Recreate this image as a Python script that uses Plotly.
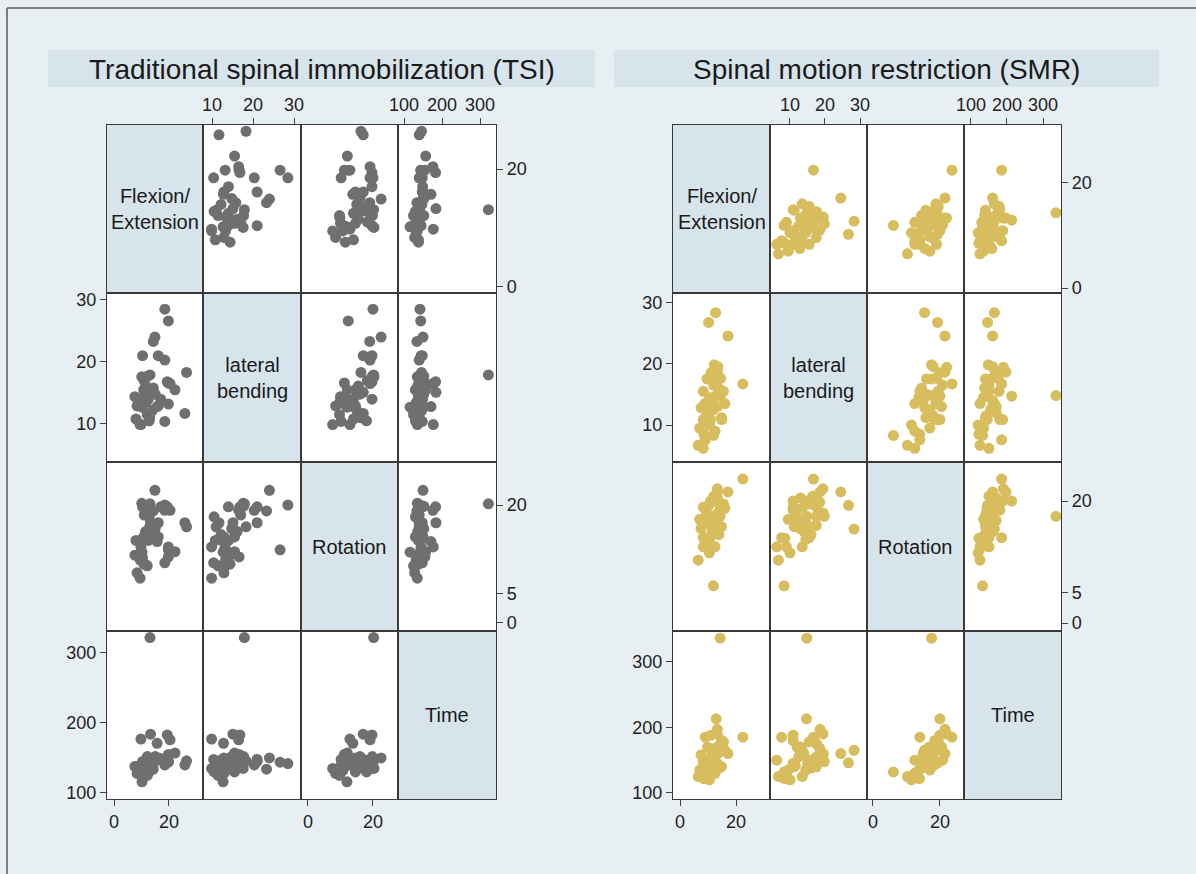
import plotly.graph_objects as go

# ---------------- data ----------------
variable_labels = ["Flexion/<br>Extension", "lateral<br>bending", "Rotation", "Time"]
group_titles = ["Traditional spinal immobilization (TSI)", "Spinal motion restriction (SMR)"]

tsi_flexion = [18.5, 19.8, 14.9, 14.3, 10.4, 16.1, 18.5, 26.4, 10.1, 12.1, 11.0, 19.8, 22.2, 7.6,
               10.8, 14.3, 9.5, 8.4, 16.1, 19.8, 25.8, 12.1, 18.5, 9.5, 10.8, 10.4, 11.5, 9.8,
               15.7, 13.3, 19.4, 20.4, 13.1, 10.2, 12.5, 13.0, 11.8, 14.0, 8.0, 15.0, 12.8, 17.0]
tsi_lateral = [28.5, 26.6, 24.0, 23.3, 21.0, 21.0, 20.3, 18.3, 17.6, 17.7, 17.0, 16.6, 15.5, 14.4,
               15.5, 15.8, 13.3, 12.9, 12.9, 13.2, 11.7, 11.5, 10.4, 9.9, 14.4, 13.9, 16.1, 9.9,
               12.8, 15.1, 16.8, 16.5, 17.9, 12.7, 14.0, 11.0, 13.5, 12.2, 10.8, 14.8, 10.5, 14.0]
tsi_rotation = [20.0, 12.4, 22.5, 19.0, 19.7, 17.0, 19.1, 16.3, 20.3, 19.8, 18.3, 11.2, 12.1, 11.5,
                14.6, 15.6, 10.7, 8.5, 14.6, 12.9, 17.0, 9.7, 10.2, 7.6, 10.0, 11.0, 15.5, 12.9,
                13.8, 17.0, 19.7, 19.1, 20.2, 12.0, 14.0, 16.3, 9.8, 15.0, 14.0, 16.0, 18.0, 19.7]
tsi_time = [142, 144, 150, 134, 145, 148, 140, 146, 135, 152, 140, 155, 157, 138,
            130, 142, 132, 128, 150, 145, 140, 125, 148, 135, 138, 142, 136, 177,
            171, 184, 183, 176, 322, 116, 144, 140, 133, 147, 138, 152, 130, 149]

smr_flexion = [22.4, 17.1, 10.2, 12.7, 14.3, 12.9, 13.3, 11.9, 13.3, 6.5, 8.3, 9.0, 10.9, 14.9,
               13.3, 14.5, 13.5, 11.0, 9.6, 8.3, 13.3, 10.5, 8.9, 11.8, 14.8, 8.3, 10.5, 8.5,
               12.5, 7.0, 16.0, 12.0, 9.8, 15.5, 11.5, 9.5, 12.2, 13.8, 7.5, 11.0]
smr_lateral = [16.7, 24.5, 26.7, 28.3, 14.8, 14.7, 18.6, 8.3, 19.4, 6.7, 6.2, 7.6, 10.9, 10.9,
               13.0, 17.6, 19.5, 17.5, 17.5, 15.5, 15.0, 14.5, 13.5, 12.5, 11.2, 10.9, 10.0, 8.5,
               9.0, 9.5, 13.5, 16.5, 12.0, 15.5, 14.0, 11.5, 19.8, 16.0, 12.8, 18.5]
smr_rotation = [23.6, 21.5, 19.3, 15.4, 17.5, 20.0, 21.5, 6.1, 22.0, 10.3, 12.5, 14.0, 20.0, 18.5,
                20.5, 19.0, 18.0, 16.0, 17.5, 14.0, 16.0, 13.7, 12.5, 17.0, 15.8, 19.0, 11.5, 13.9,
                12.5, 17.0, 18.8, 20.8, 16.8, 19.5, 15.0, 18.0, 17.5, 14.5, 15.5, 19.8]
smr_time = [185, 160, 146, 165, 336, 213, 197, 132, 190, 125, 150, 185, 188, 180,
            170, 175, 160, 155, 140, 150, 145, 135, 125, 155, 140, 145, 120, 122,
            130, 135, 165, 150, 170, 178, 160, 142, 148, 138, 158, 168]

# tick labels: x-axis (columns) and y-axis (rows)
x_ticks = [[0, 20], [10, 20, 30], [0, 20], [100, 200, 300]]
y_ticks = [[0, 20], [10, 20, 30], [0, 5, 20], [100, 200, 300]]

# ---------------- layout geometry (pixels) ----------------
W, H = 1196, 874
BG = "#e8eff3"
PANEL_BLUE = "#d8e4ec"
FONT = "Liberation Sans, Arial, sans-serif"

groups = [
    dict(title=group_titles[0], color="#6f6f6f",
         data=[tsi_flexion, tsi_lateral, tsi_rotation, tsi_time],
         cols=[107, 203, 301, 398, 496], header=(48, 595),
         xr=[[-2.55, 32.4], [7.8, 31.7], [-2.15, 27.7], [84.2, 342]],
         yr=[[-1.02, 27.46], [3.87, 31.1], [-1.36, 27.3], [91.4, 331.4]]),
    dict(title=group_titles[1], color="#d7bd5e",
         data=[smr_flexion, smr_lateral, smr_rotation, smr_time],
         cols=[673, 770, 867, 964, 1061], header=(614, 1159),
         xr=[[-2.5, 32.1], [4.29, 32.0], [-1.79, 27.2], [80.6, 350]],
         yr=[[-0.95, 31.0], [3.98, 31.5], [-1.31, 26.4], [90.8, 347]]),
]
rows = [125, 293, 462, 631, 799]


def fx(x):
    return x / W


def fy(y):
    return 1 - y / H


fig = go.Figure()
layout = {}
shapes = []
annotations = []
tickfont = dict(family=FONT, size=18, color="#222222")
n = 0
for g in groups:
    c = g["cols"]
    shapes.append(dict(type="rect", xref="paper", yref="paper", layer="below",
                       x0=fx(g["header"][0]), x1=fx(g["header"][1]), y0=fy(87), y1=fy(50),
                       fillcolor=PANEL_BLUE, line=dict(width=0)))
    annotations.append(dict(xref="paper", yref="paper",
                            x=fx((g["header"][0] + g["header"][1]) / 2), y=fy(69),
                            text=g["title"], showarrow=False, xanchor="center", yanchor="middle",
                            font=dict(family=FONT, size=28, color="#1a1a1a")))
    for i in range(4):
        for j in range(4):
            n += 1
            xa = "x" if n == 1 else f"x{n}"
            ya = "y" if n == 1 else f"y{n}"
            xk = "xaxis" if n == 1 else f"xaxis{n}"
            yk = "yaxis" if n == 1 else f"yaxis{n}"
            xd = [fx(c[j]), fx(c[j + 1])]
            yd = [fy(rows[i + 1]), fy(rows[i])]
            xax = dict(domain=xd, anchor=ya, range=g["xr"][j], showgrid=False, zeroline=False,
                       showline=True, mirror=True, linecolor="#3a3a3a", linewidth=1.2,
                       showticklabels=False, ticks="", fixedrange=True, automargin=False)
            yax = dict(domain=yd, anchor=xa, range=g["yr"][i], showgrid=False, zeroline=False,
                       showline=True, mirror=True, linecolor="#3a3a3a", linewidth=1.2,
                       showticklabels=False, ticks="", fixedrange=True, automargin=False)
            if (i == 0 and j in (1, 3)) or (i == 3 and j in (0, 2)):
                xax.update(side="top" if i == 0 else "bottom", showticklabels=True,
                           tickmode="array", tickvals=x_ticks[j], ticks="outside", ticklen=6,
                           tickcolor="#444444", tickwidth=1, tickfont=tickfont)
            if (j == 0 and i in (1, 3)) or (j == 3 and i in (0, 2)):
                yax.update(side="left" if j == 0 else "right", showticklabels=True,
                           tickmode="array", tickvals=y_ticks[i], ticks="outside", ticklen=6,
                           tickcolor="#444444", tickwidth=1, tickfont=tickfont)
            layout[xk] = xax
            layout[yk] = yax
            fill = PANEL_BLUE if i == j else "white"
            shapes.append(dict(type="rect", xref="paper", yref="paper", layer="below",
                               x0=xd[0], x1=xd[1], y0=yd[0], y1=yd[1],
                               fillcolor=fill, line=dict(width=0)))
            if i == j:
                annotations.append(dict(xref=f"{xa} domain", yref=f"{ya} domain", x=0.5, y=0.5,
                                        text=variable_labels[i], showarrow=False,
                                        font=dict(family=FONT, size=20, color="#1a1a1a")))
                fig.add_trace(go.Scatter(x=[None], y=[None], xaxis=xa, yaxis=ya,
                                         mode="markers", hoverinfo="skip", showlegend=False))
            else:
                fig.add_trace(go.Scatter(x=g["data"][j], y=g["data"][i], xaxis=xa, yaxis=ya,
                                         mode="markers", showlegend=False,
                                         marker=dict(size=11, color=g["color"], line=dict(width=0))))

# outer frame lines
shapes.append(dict(type="line", xref="paper", yref="paper", x0=fx(7), x1=fx(7), y0=0, y1=fy(8),
                   line=dict(color="#5a5a5a", width=1.5)))
shapes.append(dict(type="line", xref="paper", yref="paper", x0=fx(7), x1=1, y0=fy(8), y1=fy(8),
                   line=dict(color="#5a5a5a", width=1.5)))

fig.update_layout(width=W, height=H, margin=dict(l=0, r=0, t=0, b=0, pad=0),
                  paper_bgcolor=BG, plot_bgcolor="rgba(0,0,0,0)", autosize=False,
                  shapes=shapes, annotations=annotations, showlegend=False,
                  font=dict(family=FONT), **layout)

fig.write_html("out.html", config={"displayModeBar": False, "responsive": False},
               post_script="document.body.style.margin='0px';document.body.style.overflow='hidden';")
